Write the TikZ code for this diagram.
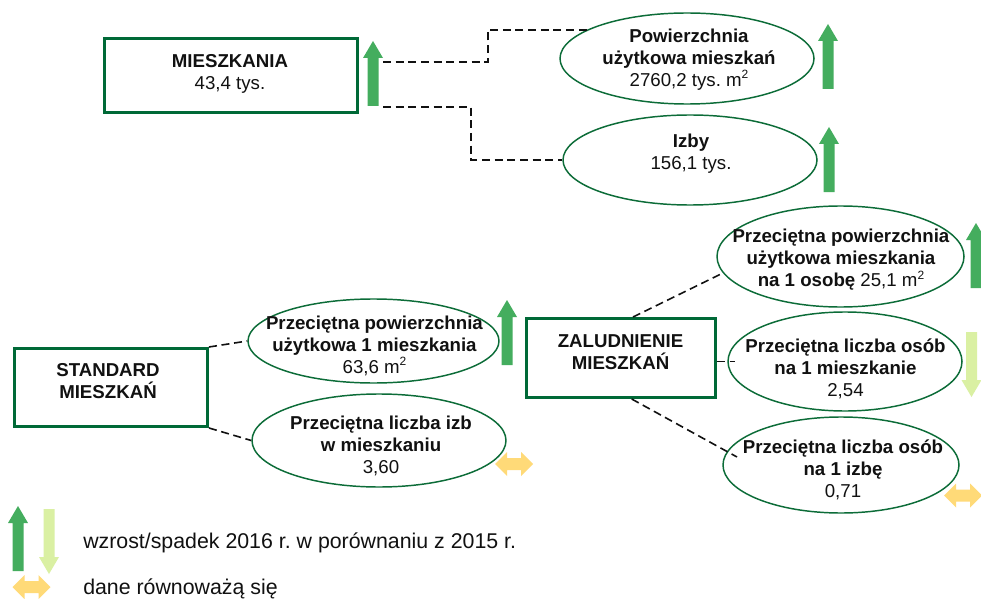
\documentclass[tikz,border=0pt]{standalone}
\usepackage{fontspec}
\setmainfont{Liberation Sans}
\usetikzlibrary{shapes.geometric,calc}
\frenchspacing
\definecolor{boxgreen}{RGB}{0,105,55}
\definecolor{ellgreen}{RGB}{12,108,56}
\definecolor{upgreen}{RGB}{68,173,94}
\definecolor{downgreen}{RGB}{218,240,163}
\definecolor{eqyellow}{RGB}{255,218,120}
\definecolor{txtblack}{RGB}{17,17,17}
\newcommand{\sqm}{m\raisebox{0.42em}{\fontsize{9}{9}\selectfont 2}}
\tikzset{
  mainbox/.style={draw=boxgreen,line width=2.25pt,rectangle,inner sep=0pt},
  oval/.style={draw=ellgreen,line width=1.1pt,ellipse,inner sep=0pt},
  txt/.style={align=center,text=txtblack,font=\fontsize{14}{16.5}\selectfont\frenchspacing,inner sep=0pt},
  legtxt/.style={anchor=base west,text=txtblack,font=\fontsize{16}{19}\selectfont\frenchspacing,inner sep=0pt},
  conn/.style={draw=txtblack,line width=1.2pt,dash pattern=on 6pt off 3.5pt},
  uparr/.pic={\fill[upgreen] (-5.5,0) -- (-5.5,-48) -- (-10,-48) -- (0,-65) -- (10,-48) -- (5.5,-48) -- (5.5,0) -- cycle;},
  downarr/.pic={\fill[downgreen] (-5.5,0) -- (-5.5,48) -- (-10,48) -- (0,65) -- (10,48) -- (5.5,48) -- (5.5,0) -- cycle;},
  eqarr/.pic={\fill[eqyellow] (-19,0) -- (-7,-12) -- (-7,-6) -- (7,-6) -- (7,-12) -- (19,0) -- (7,12) -- (7,6) -- (-7,6) -- (-7,12) -- cycle;}
}
\begin{document}
\begin{tikzpicture}[x=0.75pt,y=-0.75pt]
\fill[white] (0,0) rectangle (981,599);
\useasboundingbox (0,0) rectangle (981,599);

% boxes
\node[mainbox,minimum width=189.75pt,minimum height=55.5pt] (mbox) at (231,75.5) {};
\node[mainbox,minimum width=144.75pt,minimum height=58.5pt] (sbox) at (111,387.5) {};
\node[mainbox,minimum width=141.75pt,minimum height=59.25pt] (zbox) at (621,358) {};

% ellipses
\node[oval,minimum width=190.5pt,minimum height=68.25pt] (pow) at (687,58.5) {};
\node[oval,minimum width=190.5pt,minimum height=67.5pt] (izb) at (690,160) {};
\node[oval,minimum width=188.25pt,minimum height=63pt] (e1) at (373.5,341) {};
\node[oval,minimum width=190.5pt,minimum height=69.75pt] (e2) at (379,440.5) {};
\node[oval,minimum width=185.25pt,minimum height=75.75pt] (etr) at (840.5,256.5) {};
\node[oval,minimum width=175.5pt,minimum height=74.25pt] (emid) at (845,361.5) {};
\node[oval,minimum width=177pt,minimum height=72pt] (ebot) at (841,465) {};

% texts
\node[txt] (tm) at (230,73.5) {\textbf{MIESZKANIA}\\43,4 tys.};
\node[txt] (ts) at (108,381.5) {\textbf{STANDARD}\\\textbf{MIESZKAŃ}};
\node[txt] (tz) at (620.5,352) {\textbf{ZALUDNIENIE}\\\textbf{MIESZKAŃ}};
\node[txt] (tpow) at (689,59.5) {\textbf{Powierzchnia}\\\textbf{użytkowa mieszkań}\\2760,2 tys. \sqm};
\node[txt] (tizb) at (691,154) {\textbf{Izby}\\156,1 tys.};
\node[txt] (te1) at (374.5,346) {\textbf{Przeciętna powierzchnia}\\\textbf{użytkowa 1 mieszkania}\\63,6 \sqm};
\node[txt] (te2) at (381,445.5) {\textbf{Przeciętna liczba izb}\\\textbf{w mieszkaniu}\\3,60};
\node[txt] (tetr) at (841,260) {\textbf{Przeciętna powierzchnia}\\\textbf{użytkowa mieszkania}\\\textbf{na 1 osobę} 25,1 \sqm};
\node[txt] (temid) at (845.5,369) {\textbf{Przeciętna liczba osób}\\\textbf{na 1 mieszkanie}\\2,54};
\node[txt] (tebot) at (843,469.5) {\textbf{Przeciętna liczba osób}\\\textbf{na 1 izbę}\\0,71};

% connectors
\coordinate (m1) at (383,62);
\coordinate (m2) at (383,107);
\coordinate (zb) at (737,457);
\draw[conn] (m1) -- ++(105,0) |- (pow.164);
\draw[conn] (m2) -- ++(88,0) |- (izb.west);
\draw[conn] (sbox.north east) -- (e1.west);
\draw[conn] (sbox.south east) -- (e2.west);
\draw[conn] ([xshift=9pt]zbox.north) -- (etr.188);
\draw[conn] (zbox.east |- emid.west) -- ([xshift=6pt]emid.west);
\draw[conn] ([xshift=8pt]zbox.south) -- (zb);

% trend arrows
\pic at (373,106) {uparr};
\pic at (828,89) {uparr};
\pic at (829,192) {uparr};
\pic at (976,288) {uparr};
\pic at (507,365) {uparr};
\pic at (971.5,332) {downarr};
\pic at (514,464) {eqarr};
\pic at (963,495.5) {eqarr};

% legend
\pic at (18,571) {uparr};
\pic at (49,509) {downarr};
\pic at (31.5,587) {eqarr};
\node[legtxt] (l1) at (83,548) {wzrost/spadek 2016 r. w porównaniu z 2015 r.};
\node[legtxt] (l2) at (83,594) {dane równoważą się};
\end{tikzpicture}
\end{document}
